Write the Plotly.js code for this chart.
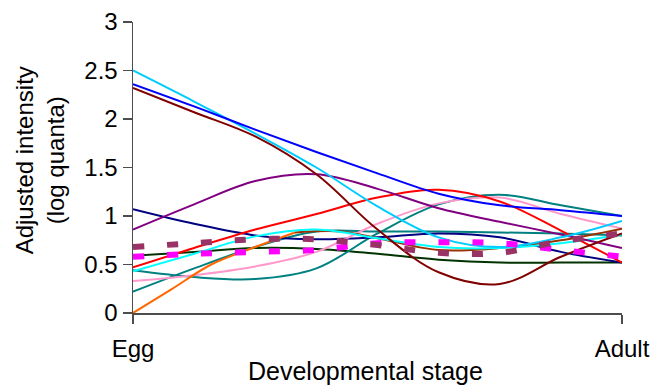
<!DOCTYPE html>
<html>
<head>
<meta charset="utf-8">
<script src="https://cdn.plot.ly/plotly-3.0.1.min.js"></script>
<style>html,body{margin:0;padding:0;background:#fff;}#chart{width:654px;height:387px;}</style>
</head>
<body>
<div id="chart"></div>
<script>
// x positions (developmental stage index, Egg = 0, Adult = 8)
var stages = [0, 1, 2, 3, 4, 5, 6, 7, 8];
var tickStages = [0, 8];
var tickNames = ["Egg", "Adult"];
var yTicks = [0, 0.5, 1, 1.5, 2, 2.5, 3];
var xTitle = "Developmental stage";
var yTitle = "Adjusted intensity<br>(log quanta)";

// series values (adjusted intensity, log quanta)
var skyBlue   = [2.50, 2.18, 1.85, 1.50, 1.10, 0.78, 0.68, 0.78, 0.95];
var blue      = [2.36, 2.13, 1.89, 1.66, 1.44, 1.23, 1.11, 1.06, 1.00];
var darkRed   = [2.32, 2.07, 1.82, 1.43, 0.86, 0.42, 0.30, 0.58, 0.82];
var purple    = [0.86, 1.12, 1.36, 1.43, 1.28, 1.08, 0.94, 0.81, 0.67];
var navy      = [1.07, 0.92, 0.80, 0.76, 0.78, 0.82, 0.78, 0.63, 0.52];
var red       = [0.47, 0.67, 0.86, 1.02, 1.19, 1.27, 1.15, 0.85, 0.52];
var darkGreen = [0.59, 0.63, 0.67, 0.66, 0.61, 0.55, 0.52, 0.52, 0.52];
var tealA     = [0.44, 0.37, 0.35, 0.46, 0.82, 1.12, 1.22, 1.11, 1.00];
var tealB     = [0.22, 0.46, 0.68, 0.84, 0.84, 0.84, 0.83, 0.82, 0.80];
var pink      = [0.33, 0.39, 0.48, 0.63, 0.92, 1.13, 1.19, 1.02, 0.87];
var aqua      = [0.43, 0.61, 0.79, 0.86, 0.77, 0.68, 0.67, 0.72, 0.81];
var magenta   = [0.58, 0.61, 0.63, 0.65, 0.72, 0.73, 0.72, 0.65, 0.58];
var plum      = [0.68, 0.72, 0.76, 0.76, 0.70, 0.62, 0.62, 0.74, 0.82];
var orangeX   = [0, 0.62, 1.28, 2.0, 2.65];
var orange    = [0.00, 0.24, 0.50, 0.68, 0.83];
var brownX    = [2.65, 3.4, 4, 5, 6, 7, 8];
var brown     = [0.83, 0.84, 0.77, 0.65, 0.67, 0.75, 0.87];

function solid(x, y, color) {
  return {x: x, y: y, type: 'scatter', mode: 'lines', hoverinfo: 'skip',
          line: {color: color, width: 2, shape: 'spline', smoothing: 1}};
}
function dashed(x, y, color) {
  return {x: x, y: y, type: 'scatter', mode: 'lines', hoverinfo: 'skip',
          line: {color: color, width: 6, shape: 'spline', smoothing: 1, dash: '11px,23px'}};
}

var traces = [
  solid(stages, darkGreen, '#003300'),
  solid(stages, tealA, '#008080'),
  solid(stages, tealB, '#008080'),
  solid(stages, navy, '#000080'),
  solid(stages, pink, '#FF99CC'),
  solid(orangeX, orange, '#FF6600'),
  solid(brownX, brown, '#993300'),
  solid(stages, aqua, '#00FFFF'),
  solid(stages, red, '#FF0000'),
  solid(stages, purple, '#800080'),
  solid(stages, darkRed, '#800000'),
  solid(stages, skyBlue, '#00CCFF'),
  solid(stages, blue, '#0000FF'),
  dashed(stages, magenta, '#FF00FF'),
  dashed(stages, plum, '#993366')
];

var axisColor = '#4d4d4d';
var fam = '"Liberation Sans", Arial, sans-serif';
var font = {family: fam, size: 24, color: '#000'};

var layout = {
  width: 654, height: 387,
  margin: {l: 133, r: 32, t: 22, b: 74},
  paper_bgcolor: '#fff', plot_bgcolor: '#fff',
  showlegend: false,
  font: font,
  xaxis: {
    range: [0, 8], tickvals: tickStages, ticktext: tickNames,
    showgrid: false, zeroline: false, showline: true, linecolor: axisColor, linewidth: 1.5,
    ticks: 'outside', ticklen: 9, tickwidth: 1.5, tickcolor: axisColor,
    tickfont: {family: fam, size: 24, color: '#000'},
    ticklabelstandoff: 5
  },
  yaxis: {
    range: [0, 3], tickmode: 'array', tickvals: yTicks, ticksuffix: '\u00a0',
    showgrid: false, zeroline: false, showline: true, linecolor: axisColor, linewidth: 1.5,
    ticks: 'outside', ticklen: 9, tickwidth: 1.5, tickcolor: axisColor,
    tickfont: {family: fam, size: 24, color: '#000'}
  },
  xaxis2: {
    overlaying: 'x', anchor: 'y', side: 'bottom', range: [0, 8], tickvals: tickStages,
    showticklabels: false, showgrid: false, zeroline: false, showline: false,
    ticks: 'inside', ticklen: 8, tickwidth: 1.5, tickcolor: axisColor
  },
  yaxis2: {
    overlaying: 'y', anchor: 'x', side: 'left', range: [0, 3], tickvals: yTicks,
    showticklabels: false, showgrid: false, zeroline: false, showline: false,
    ticks: 'inside', ticklen: 8, tickwidth: 1.5, tickcolor: axisColor
  },
  annotations: [
    {text: xTitle, xref: 'paper', yref: 'paper', x: 0.476, y: -0.198,
     xanchor: 'center', yanchor: 'middle', showarrow: false,
     font: {family: fam, size: 25, color: '#000'}},
    {text: yTitle, xref: 'paper', yref: 'paper', x: -0.19, y: 0.525,
     xanchor: 'center', yanchor: 'middle', showarrow: false, textangle: -90,
     font: {family: fam, size: 24, color: '#000'}}
  ]
};

Plotly.newPlot('chart', traces, layout, {staticPlot: true, displayModeBar: false});
</script>
</body>
</html>
